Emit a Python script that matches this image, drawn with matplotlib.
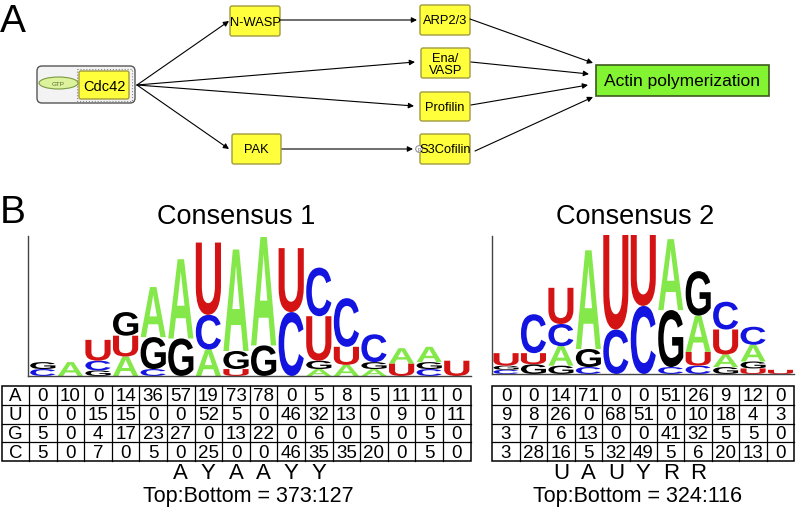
import numpy as np
import matplotlib.pyplot as plt
from matplotlib.patches import FancyBboxPatch, Ellipse, Rectangle, Circle, PathPatch
from matplotlib.textpath import TextPath
from matplotlib.font_manager import FontProperties
from matplotlib.transforms import Affine2D

plt.rcParams['font.family'] = ['Liberation Sans', 'DejaVu Sans']

# ---- data ----
row_bases = ['A', 'U', 'G', 'C']

c1_A = [0, 10, 0, 14, 36, 57, 19, 73, 78, 0, 5, 8, 5, 11, 11, 0]
c1_U = [0, 0, 15, 15, 0, 0, 52, 5, 0, 46, 32, 13, 0, 9, 0, 11]
c1_G = [5, 0, 4, 17, 23, 27, 0, 13, 22, 0, 6, 0, 5, 0, 5, 0]
c1_C = [5, 0, 7, 0, 5, 0, 25, 0, 0, 46, 35, 35, 20, 0, 5, 0]
c1_consensus = ['A', 'Y', 'A', 'A', 'Y', 'Y']
c1_cons_start = 5
c1_ratio = 'Top:Bottom = 373:127'

c2_A = [0, 0, 14, 71, 0, 0, 51, 26, 9, 12, 0]
c2_U = [9, 8, 26, 0, 68, 51, 0, 10, 18, 4, 3]
c2_G = [3, 7, 6, 13, 0, 0, 41, 32, 5, 5, 0]
c2_C = [3, 28, 16, 5, 32, 49, 5, 6, 20, 13, 0]
c2_consensus = ['U', 'A', 'U', 'Y', 'R', 'R']
c2_cons_start = 2
c2_ratio = 'Top:Bottom = 324:116'

base_colors = {'A': '#84e84a', 'U': '#d41414', 'G': '#000000', 'C': '#1414e0'}

# network nodes: name -> (x0, y0, x1, y1) in pixels
nodes = {
    'N-WASP': (230, 7, 280, 37),
    'PAK': (232, 135, 281, 165),
    'ARP2/3': (420, 6, 470, 36),
    'Ena/\nVASP': (421, 49, 470, 79),
    'Profilin': (420, 93, 470, 122),
    'S3Cofilin': (420, 135, 470, 165),
}
edges = [
    ((137, 86), (229, 22)), ((137, 86), (415, 63)), ((137, 86), (414, 107)),
    ((137, 86), (229, 150)), ((280, 21), (417, 21)), ((282, 150), (413, 150)),
    ((470, 20), (593, 64)), ((471, 63), (589, 75)), ((471, 106), (588, 86)),
    ((475, 152), (593, 98)),
]

fig = plt.figure(figsize=(8, 5.1), dpi=100)
ax = fig.add_axes([0, 0, 1, 1])
ax.set_xlim(0, 800)
ax.set_ylim(510, 0)
ax.axis('off')

# ---- panel A ----
ax.text(0, 32, 'A', fontsize=28, ha='left', va='baseline')

# Cdc42 complex
ax.add_patch(FancyBboxPatch((37, 67), 98, 37, boxstyle='round,pad=0,rounding_size=5',
                            fc='#f3f3f3', ec='#555555', lw=1))
ax.add_patch(Rectangle((77, 70), 55, 32, fc='none', ec='#888888', lw=0.8, ls=':'))
ax.add_patch(FancyBboxPatch((79, 72), 50, 28, boxstyle='round,pad=0,rounding_size=2',
                            fc='#ffff3c', ec='#a09a40', lw=1))
ax.text(104, 87, 'Cdc42', fontsize=10.5, ha='center', va='center')
ax.add_patch(Ellipse((58.5, 84), 39, 12, fc='#dcf29c', ec='#7a9a40', lw=0.8))
ax.text(58.5, 84, 'GTP', fontsize=4.5, ha='center', va='center', color='#556b2f')

for name, (x0, y0, x1, y1) in nodes.items():
    ax.add_patch(FancyBboxPatch((x0, y0), x1 - x0, y1 - y0,
                                boxstyle='round,pad=0,rounding_size=2',
                                fc='#ffff3c', ec='#a09a40', lw=1))
    ax.text((x0 + x1) / 2, (y0 + y1) / 2 + 0.5, name, fontsize=9.3, ha='center',
            va='center', linespacing=1.0)

# phospho mark on cofilin
ax.add_patch(Circle((419, 150), 3.3, fc='white', ec='#888888', lw=0.7))
ax.text(419, 150.3, 'P', fontsize=3.5, ha='center', va='center', color='#666666')

# actin polymerization
ax.add_patch(Rectangle((596, 66), 173, 31, fc='#82f432', ec='#3c5a1e', lw=1.2))
ax.text(682.5, 81.5, 'Actin polymerization', fontsize=12.5, ha='center', va='center')

for (xa, ya), (xb, yb) in edges:
    ax.annotate('', xy=(xb, yb), xytext=(xa, ya),
                arrowprops=dict(arrowstyle='-|>', mutation_scale=8, lw=0.8,
                                color='black', shrinkA=0, shrinkB=0))

# ---- panel B ----
ax.text(0, 223, 'B', fontsize=28, ha='left', va='baseline')

logo_font = FontProperties(family='Liberation Sans', weight='bold')
px_per_count = 1.39


def draw_letter(ch, x, ybot, w, h, color):
    tp = TextPath((0, 0), ch, size=1, prop=logo_font)
    bb = tp.get_extents()
    tr = Affine2D().translate(-bb.x0, -bb.y0).scale(w / bb.width, -h / bb.height).translate(x, ybot)
    ax.add_patch(PathPatch(tr.transform_path(tp), fc=color, ec='none', lw=0))


def draw_logo_table(cA, cU, cG, cC, x0, col_w, base_y, axis_left, axis_top,
                    label_col, title, title_x, cons, cons_start, ratio, ratio_x):
    counts = {'A': cA, 'U': cU, 'G': cG, 'C': cC}
    n = len(cA)
    order_src = ['A', 'C', 'G', 'U']
    # logo stacks (smallest at bottom)
    for i in range(n):
        vals = np.array([counts[b][i] for b in order_src])
        idx = np.argsort(vals, kind='stable')
        y = base_y
        for k in idx:
            h = vals[k] * px_per_count
            if h <= 0:
                continue
            b = order_src[k]
            draw_letter(b, x0 + i * col_w + 1.2, y, col_w - 2.4, h, base_colors[b])
            y -= h
    # logo axes
    right = x0 + n * col_w
    ax.plot([axis_left, axis_left], [axis_top, base_y], color='#444444', lw=1)
    ax.plot([axis_left, right], [base_y, base_y], color='#444444', lw=1)
    ax.text(title_x, 217, title, fontsize=19.5, ha='center', va='center')

    # table
    ty0, row_h = 387, 18.8
    left = x0 - 27 if label_col else x0
    ax.add_patch(Rectangle((left, ty0), right - left, 4 * row_h, fc='none', ec='black', lw=1.1))
    for r in range(1, 4):
        ax.plot([left, right], [ty0 + r * row_h] * 2, color='black', lw=0.9)
    for c in range(1, n):
        ax.plot([x0 + c * col_w] * 2, [ty0, ty0 + 4 * row_h], color='black', lw=0.9)
    if label_col:
        ax.plot([x0, x0], [ty0, ty0 + 4 * row_h], color='black', lw=0.9)
    for r, b in enumerate(row_bases):
        yc = ty0 + (r + 0.5) * row_h + 0.5
        if label_col:
            ax.text(x0 - 13.5, yc, b, fontsize=13.5, ha='center', va='center')
        for c in range(n):
            ax.text(x0 + (c + 0.5) * col_w, yc, str(counts[b][c]), fontsize=13.5,
                    ha='center', va='center')
    # consensus letters and ratio
    for j, ch in enumerate(cons):
        ax.text(x0 + (cons_start + j + 0.5) * col_w, 474, ch, fontsize=16,
                ha='center', va='center')
    ax.text(ratio_x, 497, ratio, fontsize=15.5, ha='center', va='center')


draw_logo_table(c1_A, c1_U, c1_G, c1_C, 29, 27.6, 377, 27.5, 237, True,
                'Consensus 1', 236, c1_consensus, c1_cons_start, c1_ratio, 248)
draw_logo_table(c2_A, c2_U, c2_G, c2_C, 492.3, 27.45, 375, 491.7, 237, False,
                'Consensus 2', 635.5, c2_consensus, c2_cons_start, c2_ratio, 637.5)

fig.savefig('out.png', dpi=100)
